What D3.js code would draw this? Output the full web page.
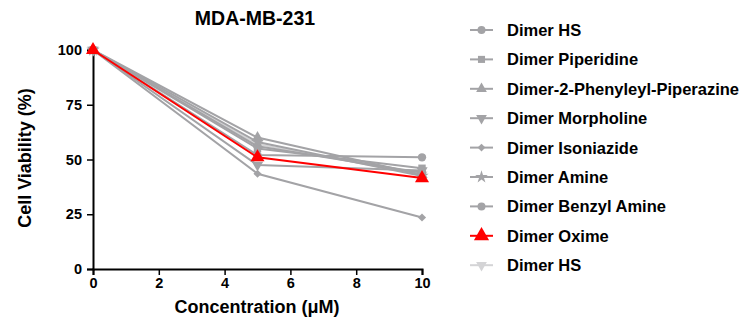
<!DOCTYPE html>
<html><head><meta charset="utf-8">
<script src="https://cdn.jsdelivr.net/npm/d3@7"></script>
<style>body{margin:0;background:#fff;} text{font-family:"Liberation Sans",Arial,sans-serif;font-weight:bold;}</style>
</head><body><svg id="c" width="747" height="322"></svg>
<script>
const conc = [0, 5, 10];
const seriesNames = ["Dimer HS","Dimer Piperidine","Dimer-2-Phenyleyl-Piperazine","Dimer Morpholine","Dimer Isoniazide","Dimer Amine","Dimer Benzyl Amine","Dimer Oxime","Dimer HS"];
const hs1 = [100, 56, 44];
const piperidine = [100, 55, 46];
const phenylPiperazine = [100, 60, 43];
const morpholine = [100, 47.5, 45];
const isoniazide = [100, 43.5, 23.5];
const amine = [100, 58, 42.5];
const benzylAmine = [100, 52, 51];
const oxime = [100, 51, 41.5];
const hs2 = [100, 57, 43];
const seriesValues = [hs1, piperidine, phenylPiperazine, morpholine, isoniazide, amine, benzylAmine, oxime, hs2];
const symbols = ["circle","square","triangle","triangleDown","diamond","star","circle","triangle","triangleDown"];
const colors = ["#a3a3a6","#a3a3a6","#a3a3a6","#a3a3a6","#a3a3a6","#a3a3a6","#a3a3a6","#ff0000","#d4d4d6"];
const xTicks = [0,2,4,6,8,10];
const yTicks = [0,25,50,75,100];

const svg = d3.select("#c");
const x = d3.scaleLinear().domain([0,10]).range([93,422]);
const y = d3.scaleLinear().domain([0,100]).range([269,50]);

function sym(name, size){
  const map = {circle:d3.symbolCircle, square:d3.symbolSquare, triangle:d3.symbolTriangle, diamond:d3.symbolDiamond, star:d3.symbolStar};
  if(name==="triangleDown") return {path:d3.symbol().type(d3.symbolTriangle).size(size)(), rot:180};
  if(name==="diamond") return {path:d3.symbol().type(d3.symbolSquare).size(size*0.6)(), rot:45};
  return {path:d3.symbol().type(map[name]).size(size)(), rot:0};
}

// axes
const xa = svg.append("g").attr("transform","translate(0,269)").call(d3.axisBottom(x).tickValues(xTicks).tickSize(6).tickPadding(3));
const ya = svg.append("g").attr("transform","translate(93,0)").call(d3.axisLeft(y).tickValues(yTicks).tickSize(6).tickPadding(5));
[xa,ya].forEach(a=>{
  a.selectAll("path").attr("stroke","#000").attr("stroke-width",2);
  a.selectAll("line").attr("stroke","#000").attr("stroke-width",1.5);
  a.selectAll("text").attr("font-size",14.5).attr("font-family","Liberation Sans, Arial, sans-serif").attr("font-weight","bold").attr("fill","#000");
});

const line = d3.line().x((d,i)=>x(conc[i])).y(d=>y(d));
const order = [8,0,1,2,3,4,5,6,7];
order.forEach(k=>{
  const vals = seriesValues[k];
  svg.append("path").attr("d",line(vals)).attr("fill","none").attr("stroke",colors[k]).attr("stroke-width",2);
  vals.forEach((v,i)=>{
    const s = sym(symbols[k], k===7?85:55);
    svg.append("path").attr("d",s.path).attr("fill",colors[k])
      .attr("transform",`translate(${x(conc[i])},${y(v)}) rotate(${s.rot})`);
  });
});

svg.append("text").attr("x",255).attr("y",25).attr("text-anchor","middle").attr("font-size",19.5).text("MDA-MB-231");
svg.append("text").attr("x",257).attr("y",313).attr("text-anchor","middle").attr("font-size",18).text("Concentration (\u03BCM)");
svg.append("text").attr("transform","translate(31,158) rotate(-90)").attr("text-anchor","middle").attr("font-size",18).text("Cell Viability (%)");

// legend
const lg = svg.append("g");
seriesNames.forEach((n,k)=>{
  const yy = 30 + k*29.4;
  lg.append("line").attr("x1",470).attr("x2",493).attr("y1",yy).attr("y2",yy).attr("stroke",colors[k]).attr("stroke-width",2);
  const s = sym(symbols[k], k===7?100:50);
  lg.append("path").attr("d",s.path).attr("fill",colors[k]).attr("transform",`translate(481.5,${yy}) rotate(${s.rot})`);
  lg.append("text").attr("x",507).attr("y",yy+6).attr("font-size",16.5).attr("fill","#000").text(n);
});
</script></body></html>
